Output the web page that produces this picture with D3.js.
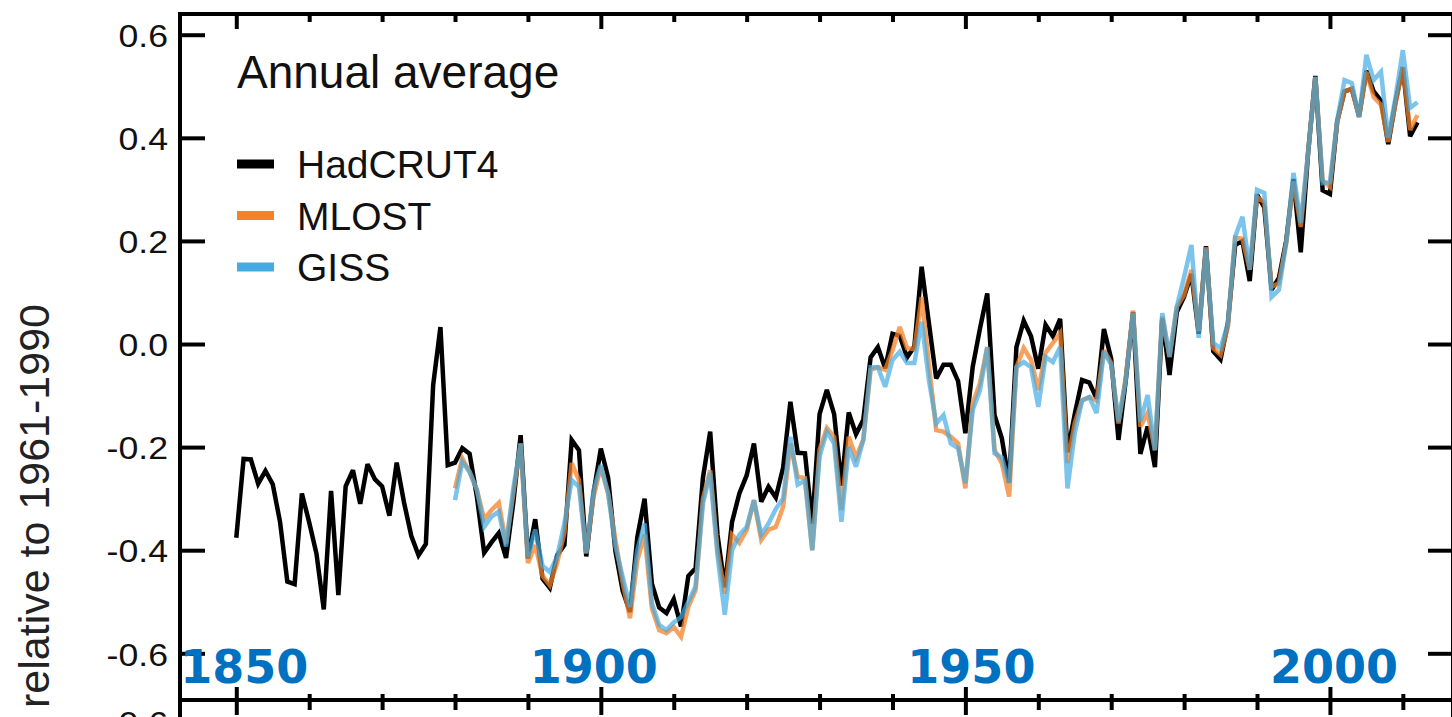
<!DOCTYPE html>
<html>
<head>
<meta charset="utf-8">
<script src="https://cdn.jsdelivr.net/npm/d3@7"></script>
<style>
  body { margin: 0; background: #fff; }
  svg { display: block; }
  .tick text { font-family: "Liberation Sans", Arial, sans-serif; fill: #111; }
  .domain { stroke: #000; stroke-width: 4; }
  .tick line { stroke: #000; stroke-width: 4; }
</style>
</head>
<body>
<script>
'use strict';

// Data, anomalies in degC relative to 1961-1990
const hadYears = d3.range(1850, 2013);
const hadcrut4 = [
  -0.376, -0.223, -0.224, -0.271, -0.246, -0.272, -0.345, -0.461, -0.466, -0.290,
  -0.346, -0.407, -0.515, -0.285, -0.487, -0.276, -0.245, -0.310, -0.233, -0.262,
  -0.276, -0.333, -0.230, -0.307, -0.372, -0.410, -0.388, -0.080, 0.033, -0.235,
  -0.230, -0.202, -0.213, -0.296, -0.405, -0.385, -0.367, -0.415, -0.307, -0.177,
  -0.416, -0.340, -0.455, -0.473, -0.410, -0.390, -0.186, -0.206, -0.412, -0.289,
  -0.203, -0.259, -0.402, -0.479, -0.520, -0.375, -0.300, -0.465, -0.511, -0.522,
  -0.495, -0.548, -0.450, -0.435, -0.260, -0.170, -0.370, -0.472, -0.345, -0.290,
  -0.255, -0.193, -0.306, -0.277, -0.298, -0.240, -0.112, -0.211, -0.212, -0.349,
  -0.136, -0.089, -0.136, -0.275, -0.133, -0.175, -0.147, -0.026, -0.006, -0.047,
  0.020, 0.016, -0.026, -0.005, 0.150, 0.040, -0.067, -0.040, -0.040, -0.072,
  -0.173, -0.045, 0.030, 0.098, -0.138, -0.183, -0.269, -0.006, 0.045, 0.015,
  -0.048, 0.037, 0.015, 0.049, -0.210, -0.136, -0.070, -0.075, -0.106, 0.029,
  -0.029, -0.186, -0.070, 0.062, -0.213, -0.160, -0.239, 0.050, -0.060, 0.062,
  0.092, 0.136, 0.020, 0.190, -0.014, -0.030, 0.040, 0.192, 0.200, 0.122,
  0.290, 0.265, 0.105, 0.128, 0.200, 0.320, 0.178, 0.370, 0.520, 0.298,
  0.291, 0.432, 0.490, 0.495, 0.442, 0.530, 0.490, 0.472, 0.388, 0.470,
  0.537, 0.403, 0.430
];

const otherYears = d3.range(1880, 2013);
const mlost = [
  -0.280, -0.222, -0.248, -0.283, -0.340, -0.322, -0.308, -0.387, -0.290, -0.193,
  -0.425, -0.390, -0.450, -0.468, -0.425, -0.367, -0.231, -0.264, -0.406, -0.296,
  -0.238, -0.290, -0.380, -0.464, -0.532, -0.420, -0.370, -0.512, -0.555, -0.561,
  -0.549, -0.568, -0.510, -0.477, -0.300, -0.245, -0.400, -0.484, -0.370, -0.386,
  -0.361, -0.303, -0.380, -0.360, -0.355, -0.316, -0.193, -0.258, -0.260, -0.400,
  -0.205, -0.163, -0.180, -0.322, -0.180, -0.220, -0.186, -0.050, -0.045, -0.050,
  -0.012, 0.033, -0.008, -0.010, 0.091, -0.040, -0.167, -0.170, -0.180, -0.193,
  -0.280, -0.115, -0.076, -0.006, -0.206, -0.231, -0.296, -0.045, -0.008, -0.031,
  -0.089, -0.017, 0.002, 0.021, -0.231, -0.154, -0.109, -0.103, -0.110, -0.012,
  -0.037, -0.154, -0.064, 0.065, -0.160, -0.134, -0.206, 0.053, -0.025, 0.072,
  0.095, 0.144, 0.025, 0.188, -0.008, -0.021, 0.033, 0.206, 0.204, 0.144,
  0.285, 0.275, 0.111, 0.118, 0.196, 0.315, 0.227, 0.370, 0.518, 0.318,
  0.305, 0.430, 0.490, 0.495, 0.440, 0.528, 0.479, 0.464, 0.392, 0.467,
  0.537, 0.415, 0.444
];
const giss = [
  -0.303, -0.228, -0.248, -0.283, -0.355, -0.335, -0.325, -0.393, -0.280, -0.193,
  -0.413, -0.360, -0.430, -0.442, -0.413, -0.348, -0.264, -0.277, -0.406, -0.283,
  -0.235, -0.290, -0.393, -0.452, -0.510, -0.400, -0.348, -0.503, -0.545, -0.555,
  -0.540, -0.530, -0.500, -0.470, -0.310, -0.250, -0.410, -0.525, -0.400, -0.370,
  -0.355, -0.303, -0.370, -0.348, -0.320, -0.300, -0.180, -0.273, -0.265, -0.400,
  -0.218, -0.170, -0.193, -0.345, -0.200, -0.238, -0.186, -0.045, -0.045, -0.083,
  -0.031, -0.015, -0.037, -0.037, 0.043, -0.070, -0.154, -0.138, -0.193, -0.202,
  -0.270, -0.128, -0.090, -0.006, -0.212, -0.220, -0.270, -0.045, -0.035, -0.045,
  -0.122, -0.025, -0.035, -0.006, -0.280, -0.173, -0.110, -0.103, -0.134, -0.015,
  -0.040, -0.150, -0.070, 0.060, -0.150, -0.099, -0.206, 0.060, -0.025, 0.072,
  0.130, 0.192, 0.012, 0.185, 0.002, -0.008, 0.040, 0.208, 0.247, 0.144,
  0.299, 0.293, 0.091, 0.105, 0.196, 0.332, 0.235, 0.370, 0.518, 0.312,
  0.314, 0.435, 0.512, 0.506, 0.440, 0.561, 0.512, 0.528, 0.400, 0.479,
  0.570, 0.458, 0.469
];

const seriesNames = ['HadCRUT4', 'MLOST', 'GISS'];
const yTicks = [-0.6, -0.4, -0.2, 0.0, 0.2, 0.4, 0.6];
const xMajorTicks = [1850, 1900, 1950, 2000];
const xMinorTicks = d3.range(1850, 2020, 10).filter(d => d % 50 !== 0);
const yearLabels = ['1850', '1900', '1950', '2000'];

// Layout
const WIDTH = 1452;
const HEIGHT = 717;
const LEFT = 180, RIGHT = 1453, TOP = 14, BOTTOM = 700;
const COLORS = { HadCRUT4: '#000000', MLOST: '#f5822a', GISS: '#45abe2' };
const LABEL_DX = [8, -7, 6, 4];

const x = d3.scaleLinear().domain([1842.28, 2016.88]).range([LEFT, RIGHT]);
const y = d3.scaleLinear().domain([-0.6906, 0.6402]).range([BOTTOM, TOP]);

// plain hyphen for negative numbers, as on the original figure
const fmt = d => d3.format('.1f')(d).replace('\u2212', '-');

const svg = d3.select('body').append('svg')
  .attr('width', WIDTH)
  .attr('height', HEIGHT)
  .style('background', '#fff');

// Data lines
const line = d3.line()
  .x(d => x(d[0]))
  .y(d => y(d[1]));

const lines = [
  { name: 'HadCRUT4', data: d3.zip(hadYears, hadcrut4), width: 4.5, opacity: 1 },
  { name: 'MLOST', data: d3.zip(otherYears, mlost), width: 4.5, opacity: 0.75 },
  { name: 'GISS', data: d3.zip(otherYears, giss), width: 4.5, opacity: 0.7 }
];

svg.append('g')
  .attr('class', 'series')
  .selectAll('path')
  .data(lines)
  .enter()
  .append('path')
    .attr('d', d => line(d.data))
    .attr('fill', 'none')
    .attr('stroke', d => COLORS[d.name])
    .attr('stroke-width', d => d.width)
    .attr('stroke-opacity', d => d.opacity)
    .attr('stroke-linejoin', 'miter')
    .attr('stroke-miterlimit', 3);

// Axes
const stretch = function () {
  const w = this.getComputedTextLength();
  d3.select(this)
    .attr('textLength', w * 1.15)
    .attr('lengthAdjust', 'spacingAndGlyphs');
};

svg.append('g')
  .attr('transform', 'translate(' + LEFT + ',0)')
  .call(d3.axisLeft(y)
    .tickValues(yTicks)
    .tickSizeInner(-25)
    .tickSizeOuter(0)
    .tickPadding(12)
    .tickFormat(fmt))
  .call(g => g.select('.domain').remove())
  .call(g => g.selectAll('.tick text')
    .style('font-size', '31px')
    .attr('dy', '0.38em')
    .each(stretch));

svg.append('g')
  .attr('transform', 'translate(' + RIGHT + ',0)')
  .call(d3.axisRight(y)
    .tickValues(yTicks)
    .tickSizeInner(-25)
    .tickSizeOuter(0)
    .tickFormat(''))
  .call(g => g.select('.domain').remove());

// top axis, ticks pointing down
svg.append('g')
  .attr('transform', 'translate(0,' + TOP + ')')
  .call(d3.axisTop(x).tickValues(xMinorTicks).tickSizeInner(-8).tickSizeOuter(0).tickFormat(''))
  .call(g => g.select('.domain').remove());
svg.append('g')
  .attr('transform', 'translate(0,' + TOP + ')')
  .call(d3.axisTop(x).tickValues(xMajorTicks).tickSizeInner(-15).tickSizeOuter(0).tickFormat(''))
  .call(g => g.select('.domain').remove());

// bottom axis, ticks crossing the line
svg.append('g')
  .attr('transform', 'translate(0,' + BOTTOM + ')')
  .call(d3.axisBottom(x).tickValues(xMinorTicks).tickSizeOuter(0).tickFormat(''))
  .call(g => g.select('.domain').remove())
  .call(g => g.selectAll('.tick line').attr('y1', -6).attr('y2', 10));
svg.append('g')
  .attr('transform', 'translate(0,' + BOTTOM + ')')
  .call(d3.axisBottom(x).tickValues(xMajorTicks).tickSizeOuter(0).tickFormat(''))
  .call(g => g.select('.domain').remove())
  .call(g => g.selectAll('.tick line').attr('y1', -13).attr('y2', 15));

// frame
const frame = svg.append('g').attr('stroke', '#000').attr('stroke-width', 4);
frame.append('line').attr('x1', LEFT - 2).attr('x2', RIGHT).attr('y1', TOP).attr('y2', TOP);
frame.append('line').attr('x1', LEFT - 2).attr('x2', RIGHT).attr('y1', BOTTOM).attr('y2', BOTTOM);
frame.append('line').attr('x1', LEFT).attr('x2', LEFT).attr('y1', TOP - 2).attr('y2', HEIGHT);
frame.append('line').attr('x1', RIGHT).attr('x2', RIGHT).attr('y1', TOP - 2).attr('y2', HEIGHT);

// top of the next panel's label, cut by the page edge as in the original
svg.append('text')
  .attr('x', LEFT - 12)
  .attr('y', BOTTOM + 34)
  .attr('text-anchor', 'end')
  .style('font-family', '"Liberation Sans", Arial, sans-serif')
  .style('font-size', '31px')
  .attr('fill', '#111')
  .text('-0.6')
  .each(stretch);

// y label
svg.append('text')
  .attr('transform', 'translate(49,708) rotate(-90)')
  .attr('text-anchor', 'start')
  .style('font-family', '"Liberation Sans", Arial, sans-serif')
  .style('font-size', '43px')
  .attr('fill', '#222')
  .text('relative to 1961-1990');

// blue year labels
svg.append('g')
  .selectAll('text')
  .data(xMajorTicks)
  .enter()
  .append('text')
    .attr('x', (d, i) => x(d) + LABEL_DX[i])
    .attr('y', 683)
    .attr('text-anchor', 'middle')
    .style('font-family', '"DejaVu Sans", Verdana, sans-serif')
    .style('font-weight', 'bold')
    .style('font-size', '46px')
    .attr('fill', '#0070c0')
    .text((d, i) => yearLabels[i]);

// legend
const legend = svg.append('g').attr('class', 'legend');
legend.append('text')
  .attr('x', 237)
  .attr('y', 88)
  .style('font-family', '"Liberation Sans", Arial, sans-serif')
  .style('font-size', '46px')
  .attr('fill', '#111')
  .text('Annual average');

const items = legend.selectAll('.item')
  .data(seriesNames)
  .enter()
  .append('g')
    .attr('class', 'item')
    .attr('transform', (d, i) => 'translate(0,' + (164 + i * 51.5) + ')');

items.append('line')
  .attr('x1', 237).attr('x2', 274)
  .attr('stroke', d => COLORS[d])
  .attr('stroke-width', 9);

items.append('text')
  .attr('x', 297)
  .attr('y', 14)
  .style('font-family', '"Liberation Sans", Arial, sans-serif')
  .style('font-size', '39px')
  .attr('fill', '#111')
  .text(d => d);
</script>
</body>
</html>
